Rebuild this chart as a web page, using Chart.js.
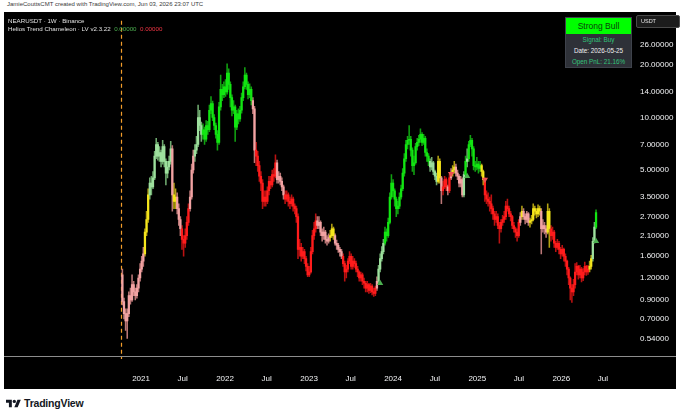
<!DOCTYPE html>
<html>
<head>
<meta charset="utf-8">
<script src="https://cdn.jsdelivr.net/npm/chart.js@4.4.1/dist/chart.umd.min.js"></script>
<style>
  body { margin: 0; width: 680px; height: 417px; background: #fff; position: relative; overflow: hidden; font-family: "Liberation Sans", Arial, sans-serif; }
  #credit { position: absolute; left: 7px; top: 1px; font-size: 6px; color: #3a3a3a; white-space: nowrap; }
  #panel { position: absolute; left: 4px; top: 12px; width: 672px; height: 377px; background: #000; }
  #panel canvas { position: absolute; left: 0; top: 0; }
  .legend { position: absolute; left: 4px; font-size: 6.2px; color: #e0e0e0; white-space: nowrap; }
  #usdt { position: absolute; left: 632px; top: 3px; width: 38px; height: 11px; background: #1c1c1c; border: 1px solid #4a4a4a; border-radius: 2px; color: #e6e6e6; font-size: 5.5px; line-height: 11px; padding-left: 4px; box-sizing: content-box; }
  #tbl { position: absolute; left: 561px; top: 5px; width: 65px; background: #2e3138; border: 1px solid #3e424b; }
  #tbl .head { background: #00ff00; color: #0b3d0b; font-size: 8.5px; text-align: center; height: 16px; line-height: 16px; }
  #tbl .row { font-size: 6.3px; text-align: center; height: 11px; line-height: 11px; }
  #tv { position: absolute; left: 6px; top: 397px; height: 12px; display: flex; align-items: center; }
  #tv span { font-size: 10.5px; font-weight: bold; color: #131722; margin-left: 3px; letter-spacing: -0.2px; }
</style>
</head>
<body>
<div id="credit">JamieCouttsCMT created with TradingView.com, Jun 03, 2026 23:07 UTC</div>
<div id="panel">
  <canvas id="chart" width="672" height="377"></canvas>
  <div class="legend" style="top:5px">NEARUSDT · 1W · Binance</div>
  <div class="legend" style="top:13px">Helios Trend Chameleon · LV v2.3.22 &nbsp;<span style="color:#4caf50">0.00000</span>&nbsp; <span style="color:#f23645">0.00000</span></div>
  <div id="usdt">USDT</div>
  <div id="tbl">
    <div class="head">Strong Bull</div>
    <div class="row" style="color:#33c27a">Signal: Buy</div>
    <div class="row" style="color:#f0f0f0">Date: 2026-05-25</div>
    <div class="row" style="color:#33c27a">Open PnL: 21.16%</div>
  </div>
</div>
<div id="tv">
  <svg width="15" height="11" viewBox="0 0 36 26"><path d="M14 22H7V11H0V4h14v18z M28 22h-8l7.5-18h8z" fill="#131722"/><circle cx="20" cy="8" r="4" fill="#131722"/></svg>
  <span>TradingView</span>
</div>

<script>
// NEARUSDT weekly candles, first bar = week of 2020-10-12
const firstWeek = '2020-10-12';
const firstOpen = 1.25;

const closes = [
  0.88, 0.75, 0.68, 0.75, 0.95, 0.90, 1.10, 1.00, 0.95, 1.05,   // 0
  1.20, 1.35, 1.50, 1.65, 2.20, 2.60, 3.60, 4.20, 4.00, 4.50,   // 10
  6.00, 7.00, 6.00, 6.30, 5.60, 6.80, 5.60, 4.80, 5.20, 5.60,   // 20
  6.60, 3.60, 3.30, 3.50, 3.00, 2.60, 2.30, 2.00, 1.90, 2.10,   // 30
  2.50, 3.00, 3.50, 5.00, 6.00, 6.50, 7.00, 10.0, 9.00, 8.00,   // 40
  8.50, 7.50, 9.00, 8.50, 11.0, 12.0, 10.0, 9.00, 8.00, 7.20,   // 50
  11.5, 14.5, 13.5, 15.0, 14.0, 18.0, 15.5, 13.0, 11.0, 11.5,   // 60
  8.80, 10.5, 9.80, 11.0, 13.0, 15.0, 17.5, 15.5, 13.5, 14.5,   // 70
  12.5, 11.2, 6.50, 6.00, 5.30, 4.60, 4.20, 3.30, 3.50, 3.30,   // 80
  3.80, 4.30, 4.10, 4.70, 4.60, 5.50, 4.40, 4.60, 4.30, 4.00,   // 90
  3.60, 3.40, 3.60, 3.30, 3.20, 3.40, 3.10, 3.00, 2.70, 1.75,   // 100
  1.80, 1.60, 1.70, 1.55, 1.40, 1.25, 1.30, 1.70, 2.10, 2.30,   // 110
  2.55, 2.40, 2.50, 2.20, 2.10, 2.20, 2.00, 1.95, 2.05, 2.10,   // 120
  2.30, 2.10, 1.90, 1.85, 1.75, 1.70, 1.60, 1.45, 1.30, 1.35,   // 130
  1.50, 1.60, 1.40, 1.50, 1.45, 1.35, 1.30, 1.20, 1.25, 1.15,   // 140
  1.12, 1.05, 1.10, 1.02, 1.08, 1.00, 0.98, 1.05, 1.15, 1.35,   // 150
  1.55, 1.70, 1.90, 2.20, 2.10, 2.50, 3.50, 4.20, 3.80, 3.40,   // 160
  3.00, 3.10, 3.50, 3.90, 4.80, 5.80, 7.00, 7.40, 7.50, 6.50,   // 170
  5.30, 5.50, 6.80, 7.20, 7.50, 8.00, 7.20, 7.60, 6.30, 6.00,   // 180
  5.60, 5.20, 5.50, 4.90, 4.60, 4.30, 5.60, 4.50, 3.80, 4.00,   // 190
  4.40, 4.00, 3.80, 4.50, 4.80, 5.00, 5.20, 4.80, 4.60, 4.20,   // 200
  4.40, 3.60, 4.70, 5.60, 5.80, 7.00, 7.40, 6.60, 5.30, 5.20,   // 210
  5.40, 5.10, 5.30, 4.90, 4.40, 3.60, 3.40, 3.30, 3.20, 3.00,   // 220
  2.80, 2.60, 2.70, 2.40, 2.30, 2.50, 2.60, 2.70, 3.10, 3.00,   // 230
  2.80, 2.70, 2.40, 2.30, 2.20, 2.10, 2.50, 2.70, 2.90, 2.70,   // 240
  2.60, 2.80, 2.50, 2.55, 2.60, 3.00, 2.90, 2.80, 3.00, 2.90,   // 250
  2.30, 2.40, 2.30, 2.20, 2.90, 2.30, 2.10, 2.20, 1.90, 1.80,   // 260
  1.90, 1.75, 1.65, 1.75, 1.60, 1.50, 1.35, 1.20, 1.05, 1.00,   // 270
  1.10, 1.30, 1.40, 1.25, 1.35, 1.20, 1.30, 1.40, 1.30, 1.35,   // 280
  1.40, 1.55, 1.95, 2.35, 2.85                                  // 290
];

const highs = [
  1.35, 0.92, 0.80, 0.80, 1.00, 1.05, 1.25, 1.15, 1.05, 1.10,
  1.25, 1.45, 1.60, 1.80, 2.30, 2.90, 3.90, 4.50, 4.60, 4.90,
  6.40, 7.60, 7.20, 6.80, 6.50, 7.40, 7.00, 5.80, 5.60, 6.00,
  7.30, 6.90, 4.20, 3.90, 3.70, 3.20, 2.70, 2.40, 2.10, 2.30,
  2.70, 3.20, 3.80, 5.40, 6.50, 7.00, 7.80, 11.8, 11.0, 9.40,
  9.20, 8.80, 9.60, 9.50, 11.8, 13.2, 12.4, 10.4, 9.30, 8.40,
  12.2, 17.5, 15.5, 16.0, 16.5, 20.3, 19.0, 16.0, 13.5, 12.5,
  11.8, 11.0, 11.2, 11.6, 13.8, 16.0, 19.3, 18.0, 16.0, 15.6,
  15.0, 13.0, 11.6, 7.20, 6.40, 5.60, 4.90, 4.40, 3.80, 3.80,
  4.00, 4.60, 4.60, 5.00, 5.10, 6.10, 5.70, 4.90, 4.80, 4.50,
  4.10, 3.80, 3.80, 3.70, 3.50, 3.60, 3.50, 3.20, 3.10, 2.80,
  2.00, 1.90, 1.80, 1.75, 1.60, 1.45, 1.40, 1.80, 2.25, 2.50,
  2.80, 2.70, 2.70, 2.55, 2.30, 2.35, 2.25, 2.10, 2.15, 2.25,
  2.45, 2.35, 2.15, 1.98, 1.90, 1.80, 1.75, 1.65, 1.50, 1.42,
  1.55, 1.70, 1.65, 1.60, 1.55, 1.50, 1.40, 1.32, 1.30, 1.28,
  1.20, 1.15, 1.15, 1.12, 1.12, 1.10, 1.05, 1.08, 1.22, 1.42,
  1.65, 1.82, 2.00, 2.35, 2.30, 2.65, 3.70, 4.70, 4.40, 3.90,
  3.50, 3.30, 3.70, 4.10, 5.10, 6.20, 7.40, 7.80, 9.00, 7.80,
  6.70, 6.00, 7.10, 7.60, 7.90, 8.60, 8.20, 8.00, 7.80, 6.60,
  6.20, 5.80, 5.90, 5.60, 5.00, 4.80, 6.00, 5.80, 4.60, 4.30,
  4.60, 4.50, 4.10, 4.70, 5.10, 5.30, 5.60, 5.40, 5.00, 4.70,
  4.60, 4.50, 4.90, 6.00, 6.60, 7.30, 7.90, 7.60, 6.80, 5.60,
  5.90, 5.60, 5.60, 5.40, 5.00, 4.50, 3.80, 3.70, 3.50, 3.60,
  3.10, 2.90, 2.90, 2.80, 2.50, 2.60, 2.75, 2.90, 3.30, 3.40,
  3.10, 2.90, 2.75, 2.50, 2.35, 2.30, 2.60, 2.85, 3.10, 3.00,
  2.80, 2.90, 2.85, 2.65, 2.75, 3.20, 3.10, 3.00, 3.15, 3.10,
  3.00, 2.60, 2.50, 2.40, 3.20, 3.00, 2.40, 2.35, 2.25, 1.95,
  2.00, 1.95, 1.80, 1.85, 1.78, 1.65, 1.52, 1.38, 1.22, 1.10,
  1.18, 1.45, 1.47, 1.42, 1.42, 1.38, 1.36, 1.48, 1.42, 1.42,
  1.50, 1.62, 2.05, 2.50, 2.95
];

const lows = [
  0.84, 0.70, 0.60, 0.54, 0.72, 0.85, 0.88, 0.95, 0.90, 0.92,
  1.00, 1.15, 1.30, 1.40, 1.60, 2.10, 2.50, 3.40, 3.60, 3.90,
  4.40, 5.80, 5.70, 5.60, 5.20, 5.40, 5.20, 4.10, 4.50, 5.00,
  5.40, 2.90, 3.00, 3.00, 2.80, 2.40, 2.10, 1.75, 1.60, 1.80,
  2.00, 2.40, 2.90, 3.40, 4.80, 5.60, 6.20, 6.80, 8.40, 7.30,
  7.50, 7.00, 7.30, 8.00, 8.30, 10.5, 9.60, 8.50, 7.60, 6.50,
  7.00, 11.0, 12.5, 13.0, 13.2, 13.6, 14.5, 11.5, 10.2, 10.5,
  7.30, 8.50, 9.20, 9.50, 10.6, 12.5, 14.6, 14.5, 12.8, 13.0,
  11.8, 10.5, 5.50, 5.30, 4.90, 4.30, 3.80, 3.00, 3.10, 3.10,
  3.20, 3.60, 3.90, 4.00, 4.30, 4.50, 4.20, 4.20, 4.10, 3.80,
  3.40, 3.20, 3.30, 3.10, 3.00, 3.10, 2.90, 2.80, 2.50, 1.55,
  1.60, 1.50, 1.55, 1.45, 1.32, 1.22, 1.22, 1.28, 1.65, 2.00,
  2.20, 2.30, 2.30, 2.10, 1.95, 2.00, 1.90, 1.85, 1.90, 1.95,
  2.05, 2.00, 1.85, 1.75, 1.68, 1.60, 1.55, 1.40, 1.15, 1.20,
  1.30, 1.45, 1.35, 1.35, 1.38, 1.30, 1.22, 1.15, 1.15, 1.10,
  1.05, 1.00, 1.00, 0.98, 0.99, 0.96, 0.94, 0.95, 1.02, 1.12,
  1.30, 1.50, 1.65, 1.85, 1.95, 2.05, 2.45, 3.40, 3.50, 3.10,
  2.70, 2.80, 3.00, 3.40, 3.80, 4.60, 5.60, 6.60, 7.00, 6.00,
  4.90, 4.70, 5.40, 6.50, 6.90, 7.20, 6.90, 7.00, 6.00, 5.60,
  5.30, 4.90, 5.00, 4.70, 4.40, 4.10, 4.20, 4.20, 3.20, 3.60,
  3.90, 3.80, 3.60, 3.70, 4.40, 4.60, 4.80, 4.60, 4.40, 4.00,
  4.00, 3.50, 3.50, 4.50, 5.20, 5.60, 6.80, 6.00, 5.00, 4.90,
  5.00, 4.80, 4.90, 4.60, 4.10, 3.30, 3.20, 3.10, 2.90, 2.80,
  2.60, 2.40, 2.50, 2.30, 1.90, 2.20, 2.40, 2.50, 2.60, 2.90,
  2.70, 2.55, 2.30, 2.20, 2.05, 1.95, 2.05, 2.40, 2.60, 2.60,
  2.45, 2.50, 2.40, 2.35, 2.45, 2.55, 2.75, 2.65, 2.70, 2.75,
  1.65, 2.20, 2.15, 2.05, 2.15, 1.80, 1.95, 2.00, 1.80, 1.70,
  1.75, 1.65, 1.55, 1.60, 1.50, 1.40, 1.25, 1.10, 0.90, 0.87,
  0.95, 1.05, 1.25, 1.18, 1.20, 1.14, 1.16, 1.25, 1.24, 1.26,
  1.30, 1.35, 1.50, 1.90, 2.30
];

// Helios trend state per bar: R bear, P weak bear, Y neutral, L weak bull, G bull
const regimeRuns = [
  ['P', 14], ['Y', 3], ['L', 14], ['P', 1], ['Y', 2], ['P', 3], ['R', 5], ['P', 3], ['L', 5], ['G', 31],
  ['P', 2], ['R', 13], ['P', 5], ['R', 20], ['P', 8], ['Y', 3], ['P', 5], ['R', 21],
  ['P', 1], ['L', 4], ['G', 28], ['L', 5], ['Y', 2], ['P', 1], ['R', 3], ['P', 1], ['R', 1], ['P', 1], ['Y', 2], ['P', 5],
  ['L', 1], ['G', 1], ['L', 1], ['G', 8], ['Y', 2], ['R', 22],
  ['P', 1], ['Y', 1], ['P', 4], ['Y', 7], ['P', 4], ['Y', 2], ['R', 24], ['Y', 2], ['L', 2], ['G', 1]
];

// buy / sell triangles
const signalBars = [160, 204, 214, 225, 294];
const signalPrices = [1.12, 4.75, 4.6, 4.4, 1.95];
const signalTypes = ['buy', 'sell', 'buy', 'sell', 'buy'];

// price axis and time axis labels
const priceTicks = [26, 20, 14, 10, 7, 5, 3.5, 2.7, 2.1, 1.6, 1.2, 0.9, 0.7, 0.54];
const timeTickDates = ['2021-01-01', '2021-07-01', '2022-01-01', '2022-07-01', '2023-01-01', '2023-07-01',
  '2024-01-01', '2024-07-01', '2025-01-01', '2025-07-01', '2026-01-01', '2026-07-01'];
const timeTickLabels = ['2021', 'Jul', '2022', 'Jul', '2023', 'Jul', '2024', 'Jul', '2025', 'Jul', '2026', 'Jul'];

const stateColors = { R: '#ff1c1c', P: '#f2a3a3', Y: '#f5e61c', L: '#9ee09e', G: '#12e612' };
const wickColors = { R: 'rgba(220,20,20,0.85)', P: 'rgba(220,140,140,0.85)', Y: 'rgba(210,190,20,0.85)', L: 'rgba(130,200,130,0.85)', G: 'rgba(20,190,20,0.85)' };

const WEEK_MS = 7 * 86400000;
const t0 = Date.parse(firstWeek);
const timeTickWeeks = timeTickDates.map(d => (Date.parse(d) - t0) / WEEK_MS);

const regimes = regimeRuns.flatMap(([k, n]) => Array(n).fill(k));
const opens = closes.map((c, i) => (i === 0 ? firstOpen : closes[i - 1]));

const bodyData = closes.map((c, i) => ({ x: i, y: [opens[i], c] }));
const wickData = closes.map((c, i) => ({ x: i, y: [lows[i], highs[i]] }));
const signalData = signalBars.map((b, i) => ({ x: b, y: signalPrices[i] }));

Chart.defaults.font.family = '"Liberation Sans", Arial, sans-serif';

const firstBarLine = {
  id: 'firstBarLine',
  beforeDatasetsDraw(chart) {
    const { ctx, chartArea, scales } = chart;
    const px = Math.round(scales.x.getPixelForValue(0)) - 0.5;
    ctx.save();
    ctx.strokeStyle = '#f29d2a';
    ctx.lineWidth = 1.2;
    ctx.setLineDash([4, 3]);
    ctx.beginPath();
    ctx.moveTo(px, chartArea.top);
    ctx.lineTo(px, chartArea.bottom + 3);
    ctx.stroke();
    ctx.restore();
  },
  afterDraw(chart) {
    // separator between the price pane and the time axis
    const { ctx, chartArea } = chart;
    ctx.save();
    ctx.strokeStyle = '#8c8c8c';
    ctx.lineWidth = 1;
    ctx.beginPath();
    ctx.moveTo(0, chartArea.bottom + 0.5);
    ctx.lineTo(chart.width, chartArea.bottom + 0.5);
    ctx.stroke();
    ctx.restore();
  }
};

new Chart(document.getElementById('chart').getContext('2d'), {
  type: 'bar',
  data: {
    datasets: [
      {
        type: 'scatter', label: 'signals', data: signalData, order: 0,
        pointStyle: 'triangle', pointRadius: 3.6, borderWidth: 0,
        rotation: signalTypes.map(t => (t === 'sell' ? 180 : 0)),
        backgroundColor: signalTypes.map(t => (t === 'sell' ? '#f0504f' : '#4caf50'))
      },
      {
        label: 'body', data: bodyData, order: 1, grouped: false,
        barThickness: 1.6, minBarLength: 1, borderWidth: 0,
        backgroundColor: regimes.map(k => stateColors[k])
      },
      {
        label: 'wick', data: wickData, order: 2, grouped: false,
        barThickness: 0.9, borderWidth: 0,
        backgroundColor: regimes.map(k => wickColors[k])
      }
    ]
  },
  options: {
    responsive: false,
    animation: false,
    devicePixelRatio: 1,
    events: [],
    layout: { padding: 0 },
    plugins: { legend: { display: false }, tooltip: { enabled: false } },
    scales: {
      x: {
        type: 'linear', min: -71, max: 318.8, offset: false,
        grid: { display: false, drawTicks: false, offset: false },
        border: { display: false },
        afterFit: s => { s.height = 33; },
        afterBuildTicks: s => { s.ticks = timeTickWeeks.map(v => ({ value: v })); },
        ticks: {
          autoSkip: false, maxRotation: 0, padding: 18, color: '#f2f3f5',
          font: { size: 8 },
          callback: (v, i) => timeTickLabels[i]
        }
      },
      y: {
        type: 'logarithmic', position: 'right', min: 0.4284, max: 35.86,
        grid: { display: false, drawTicks: false },
        border: { display: false },
        afterFit: s => { s.width = 40; },
        afterBuildTicks: s => { s.ticks = priceTicks.map(v => ({ value: v })); },
        ticks: {
          autoSkip: false, padding: 4, color: '#f2f3f5',
          font: { size: 8 },
          callback: v => Number(v).toFixed(5)
        }
      }
    }
  },
  plugins: [firstBarLine]
});
</script>
</body>
</html>
